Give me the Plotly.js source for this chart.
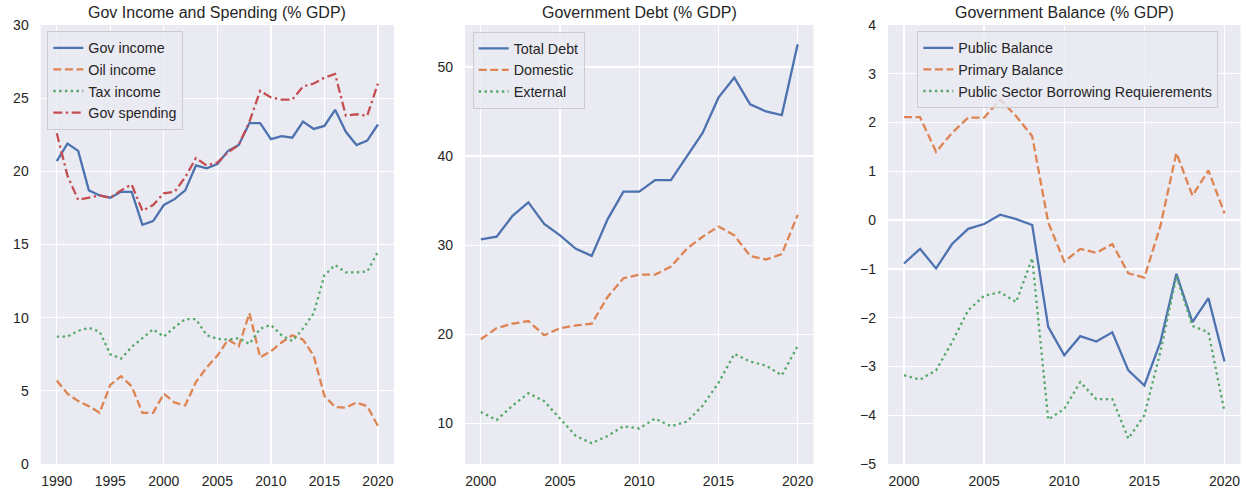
<!DOCTYPE html>
<html>
<head>
<meta charset="utf-8">
<script src="https://cdn.plot.ly/plotly-3.0.1.min.js"></script>
<style>html,body{margin:0;padding:0;background:#fff}#chart{width:1246px;height:495px}</style>
</head>
<body>
<div id="chart"></div>
<script>
// ---- Data ----
const yearsIncome = [1990,1991,1992,1993,1994,1995,1996,1997,1998,1999,2000,2001,2002,2003,2004,2005,2006,2007,2008,2009,2010,2011,2012,2013,2014,2015,2016,2017,2018,2019,2020];
const govIncome   = [20.7,21.9,21.4,18.7,18.35,18.2,18.6,18.6,16.35,16.6,17.7,18.1,18.7,20.4,20.2,20.5,21.4,21.8,23.3,23.3,22.2,22.4,22.3,23.4,22.9,23.1,24.2,22.7,21.8,22.1,23.2];
const oilIncome   = [5.7,4.8,4.3,3.95,3.5,5.4,6.0,5.3,3.5,3.5,4.8,4.2,4.0,5.6,6.6,7.4,8.5,8.05,10.3,7.3,7.7,8.3,8.8,8.5,7.4,4.65,3.9,3.85,4.2,3.95,2.6];
const taxIncome   = [8.7,8.7,9.1,9.3,9.05,7.5,7.2,8.0,8.6,9.2,8.7,9.35,9.9,9.9,8.8,8.55,8.5,8.6,8.2,9.25,9.5,8.8,8.4,9.25,10.3,12.9,13.6,13.1,13.1,13.15,14.5];
const govSpending = [22.6,19.7,18.05,18.2,18.35,18.2,18.7,19.1,17.3,17.7,18.5,18.6,19.6,20.9,20.4,20.6,21.3,21.8,23.4,25.5,25.05,24.9,24.9,25.8,26.0,26.4,26.65,23.8,23.9,23.8,26.0];

const yearsDebt   = [2000,2001,2002,2003,2004,2005,2006,2007,2008,2009,2010,2011,2012,2013,2014,2015,2016,2017,2018,2019,2020];
const totalDebt   = [30.65,30.95,33.3,34.8,32.4,31.1,29.6,28.8,32.9,36.0,36.0,37.3,37.3,40.0,42.6,46.55,48.8,45.8,45.0,44.6,52.55];
const domesticDebt= [19.45,20.7,21.2,21.5,19.9,20.7,21.0,21.2,24.2,26.3,26.7,26.7,27.6,29.6,30.95,32.1,31.1,28.8,28.4,29.0,33.4];
const externalDebt= [11.3,10.4,12.0,13.4,12.5,10.5,8.6,7.8,8.6,9.7,9.45,10.55,9.7,10.2,12.0,14.55,17.8,16.95,16.5,15.4,18.7];

const yearsBal    = [2000,2001,2002,2003,2004,2005,2006,2007,2008,2009,2010,2011,2012,2013,2014,2015,2016,2017,2018,2019,2020];
const publicBal   = [-0.89,-0.59,-0.99,-0.49,-0.18,-0.08,0.11,0.02,-0.1,-2.19,-2.77,-2.38,-2.49,-2.3,-3.08,-3.39,-2.5,-1.1,-2.09,-1.6,-2.9];
const primaryBal  = [2.11,2.11,1.4,1.79,2.1,2.1,2.47,2.13,1.72,-0.05,-0.85,-0.59,-0.67,-0.49,-1.09,-1.18,-0.12,1.38,0.5,1.02,0.14];
const psbr        = [-3.18,-3.27,-3.08,-2.5,-1.85,-1.55,-1.48,-1.68,-0.78,-4.09,-3.87,-3.32,-3.67,-3.67,-4.48,-4.0,-2.7,-1.15,-2.17,-2.3,-3.93];

const titles = ["Gov Income and Spending (% GDP)","Government Debt (% GDP)","Government Balance (% GDP)"];

// ---- Style ----
const C = {blue:"#4C72B0", orange:"#DD8452", green:"#55A868", red:"#C44E52"};
const LW = 2.3;
const DASH = "8px,3.6px", DOT = "2.4px,3.4px", DASHDOT = "9px,3.5px,2.4px,3.5px";
const W = 1246, H = 495;
const textColor = "#262626";
const FONT = "Liberation Sans, Arial, sans-serif";

function tr(x, y, name, color, dash, xa, ya, leg) {
  return {x:x, y:y, name:name, type:"scatter", mode:"lines",
    line:{color:color, width:LW, dash:dash}, xaxis:xa, yaxis:ya, legend:leg, hoverinfo:"skip"};
}

const data = [
  tr(yearsIncome, govIncome, "Gov income", C.blue, "solid", "x", "y", "legend"),
  tr(yearsIncome, oilIncome, "Oil income", C.orange, DASH, "x", "y", "legend"),
  tr(yearsIncome, taxIncome, "Tax income", C.green, DOT, "x", "y", "legend"),
  tr(yearsIncome, govSpending, "Gov spending", C.red, DASHDOT, "x", "y", "legend"),
  tr(yearsDebt, totalDebt, "Total Debt", C.blue, "solid", "x2", "y2", "legend2"),
  tr(yearsDebt, domesticDebt, "Domestic", C.orange, DASH, "x2", "y2", "legend2"),
  tr(yearsDebt, externalDebt, "External", C.green, DOT, "x2", "y2", "legend2"),
  tr(yearsBal, publicBal, "Public Balance", C.blue, "solid", "x3", "y3", "legend3"),
  tr(yearsBal, primaryBal, "Primary Balance", C.orange, DASH, "x3", "y3", "legend3"),
  tr(yearsBal, psbr, "Public Sector Borrowing Requierements", C.green, DOT, "x3", "y3", "legend3")
];

const yTop = 25, yBot = 464;
const ydom = [1 - yBot/H, 1 - yTop/H];
const xdoms = [[40.7, 394], [465, 813.5], [888, 1240.5]];

function xax(dom, range, dtick, anchor) {
  return {domain:[dom[0]/W, dom[1]/W], range:range, dtick:dtick, tick0:2000, anchor:anchor,
    showgrid:true, gridcolor:"#ffffff", gridwidth:1.3, zeroline:false, showline:false,
    ticks:"", ticklabelstandoff:7, tickfont:{family:FONT, size:14, color:textColor}, fixedrange:true};
}
function yax(range, dtick, anchor) {
  return {domain:ydom, range:range, dtick:dtick, tick0:0, anchor:anchor,
    showgrid:true, gridcolor:"#ffffff", gridwidth:1.3, zeroline:false, showline:false,
    ticks:"", ticklabelstandoff:11, tickfont:{family:FONT, size:14, color:textColor}, fixedrange:true};
}
function leg(xpx, ypx) {
  return {x:xpx/W, y:1 - ypx/H, xanchor:"left", yanchor:"top", xref:"paper", yref:"paper",
    bgcolor:"rgba(234,234,242,0.8)", bordercolor:"#cccccc", borderwidth:1,
    font:{family:FONT, size:14.3, color:textColor}, itemwidth:30, tracegroupgap:0};
}

const annotations = titles.map((t, i) => ({
  text:t, xref:"paper", yref:"paper", x:(xdoms[i][0] + xdoms[i][1]) / 2 / W, y:1 - 12/H,
  xanchor:"center", yanchor:"middle", showarrow:false,
  font:{family:FONT, size:16, color:textColor}
}));

const layout = {
  width:W, height:H, margin:{l:0, r:0, t:0, b:0},
  paper_bgcolor:"#ffffff", plot_bgcolor:"#EAEAF2",
  font:{family:FONT, color:textColor},
  showlegend:true,
  xaxis: xax(xdoms[0], [1988.5, 2021.5], 5, "y"),
  yaxis: yax([0, 30], 5, "x"),
  xaxis2: xax(xdoms[1], [1999, 2021], 5, "y2"),
  yaxis2: yax([5.46, 54.7], 10, "x2"),
  xaxis3: xax(xdoms[2], [1999, 2021], 5, "y3"),
  yaxis3: yax([-5, 4], 1, "x3"),
  legend: leg(47.3, 31),
  legend2: leg(472.7, 31.5),
  legend3: leg(917.3, 31),
  annotations: annotations
};

Plotly.newPlot("chart", data, layout, {displayModeBar:false, staticPlot:true});
</script>
</body>
</html>
